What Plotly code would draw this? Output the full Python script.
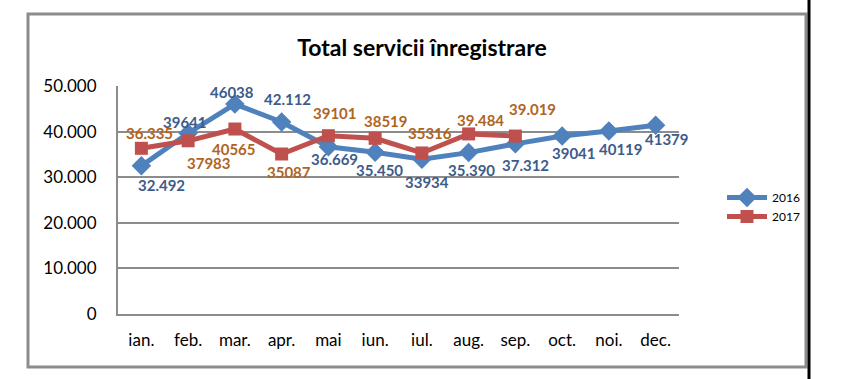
import plotly.graph_objects as go

months = ["ian.", "feb.", "mar.", "apr.", "mai", "iun.", "iul.", "aug.", "sep.", "oct.", "noi.", "dec."]
vals_2016 = [32492, 39641, 46038, 42112, 36669, 35450, 33934, 35390, 37312, 39041, 40119, 41379]
vals_2017 = [36335, 37983, 40565, 35087, 39101, 38519, 35316, 39484, 39019]
labels_2016 = ["32.492", "39641", "46038", "42.112", "36.669", "35.450", "33934", "35.390", "37.312", "39041", "40119", "41379"]
labels_2017 = ["36.335", "37983", "40565", "35087", "39101", "38519", "35316", "39.484", "39.019"]

# label offsets in pixels (dx, dy up)
off_2016 = [(20, -19), (-3, 11), (-3, 12), (6, 23), (6, -12), (4, -18), (5, -23),
            (3, -17), (10, -21), (12, -17), (12, -18), (11, -14)]
off_2017 = [(8, 15), (21, -22), (-1, -20), (7, -18), (7, 23), (11, 17), (8, 20),
            (12, 14), (17, 27)]

BLUE = "#4F81BD"
RED = "#C0504D"
BLUE_TXT = "#3D5C8A"
BROWN_TXT = "#B0641F"
FONT = "Lato"

fig = go.Figure()
fig.add_trace(go.Scatter(
    x=months, y=vals_2016, name="2016", mode="lines+markers",
    line=dict(color=BLUE, width=5),
    marker=dict(symbol="diamond", size=15, color=BLUE),
))
fig.add_trace(go.Scatter(
    x=months[:len(vals_2017)], y=vals_2017, name="2017", mode="lines+markers",
    line=dict(color=RED, width=5),
    marker=dict(symbol="square", size=13, color=RED),
))

annotations = []
for m, v, t, (dx, dy) in zip(months, vals_2016, labels_2016, off_2016):
    annotations.append(dict(x=m, y=v, text=t, showarrow=False, xshift=dx, yshift=dy,
                            font=dict(family=FONT, size=15, color=BLUE_TXT, weight="bold")))
for m, v, t, (dx, dy) in zip(months, vals_2017, labels_2017, off_2017):
    annotations.append(dict(x=m, y=v, text=t, showarrow=False, xshift=dx, yshift=dy,
                            font=dict(family=FONT, size=15, color=BROWN_TXT, weight="bold")))

L, R, T, B = 118, 679, 86, 314
W, H = 842, 379
pw, ph = R - L, B - T

def px(x):
    return (x - L) / pw

def py(y):
    return (B - y) / ph

shapes = [
    dict(type="rect", xref="paper", yref="paper", x0=px(28), x1=px(806), y0=py(367), y1=py(14),
         line=dict(color="#8C8C8C", width=3), fillcolor="rgba(0,0,0,0)", layer="below"),
    dict(type="line", xref="paper", yref="paper", x0=px(809), x1=px(809), y0=py(-5), y1=py(385),
         line=dict(color="#000000", width=3)),
]

fig.update_layout(
    width=W, height=H,
    margin=dict(l=L, r=W - R, t=T, b=H - B, autoexpand=False),
    paper_bgcolor="white", plot_bgcolor="white",
    separators=",.",
    font=dict(family=FONT, color="#000000"),
    title=dict(text="<b>Total servicii înregistrare</b>", x=422 / W, xanchor="center",
               y=1 - 48 / H, yanchor="middle", yref="container",
               font=dict(family=FONT, size=23, color="#000000")),
    xaxis=dict(type="category", range=[-0.5, 11.5], showgrid=False,
               showline=True, linecolor="#8C8C8C", linewidth=2,
               tickfont=dict(size=17), ticks="", ticklabelstandoff=10),
    yaxis=dict(range=[0, 50000], dtick=10000, tickformat=",d", showgrid=True,
               gridcolor="#8C8C8C", gridwidth=2, zeroline=False,
               showline=True, linecolor="#8C8C8C", linewidth=2,
               tickfont=dict(size=17), ticks="", ticklabelstandoff=16),
    legend=dict(x=px(722), y=py(207), xanchor="left", yanchor="middle",
                font=dict(family=FONT, size=12, color="#000000"),
                bgcolor="rgba(0,0,0,0)", itemwidth=40, tracegroupgap=0),
    showlegend=True,
    annotations=annotations,
    shapes=shapes,
)
fig.update_traces(cliponaxis=False)

fig.write_html("out.html", config={"displayModeBar": False},
               post_script="document.body.style.margin='0';")
